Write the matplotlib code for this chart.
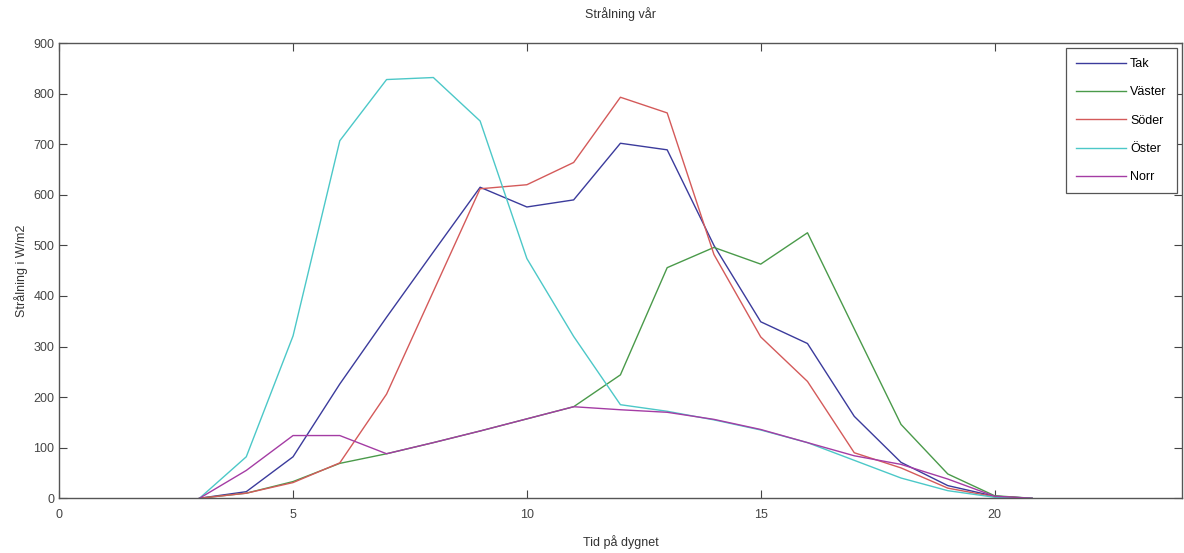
import numpy as np
import matplotlib.pyplot as plt

# hours of the day (last point is sunset)
tid = [3, 4, 5, 6, 7, 8, 9, 10, 11, 12, 13, 14, 15, 16, 17, 18, 19, 20, 20.8]

tak = [0, 13, 82, 226, 358, 487, 615, 576, 590, 702, 689, 500, 349, 306, 162, 71, 25, 4, 0]
vaster = [0, 10, 33, 69, 88, 110, 133, 157, 181, 244, 456, 496, 463, 525, 335, 146, 48, 5, 0]
soder = [0, 10, 31, 70, 206, 409, 612, 620, 664, 793, 762, 482, 319, 231, 90, 60, 20, 3, 0]
oster = [0, 82, 321, 707, 828, 832, 746, 474, 320, 185, 172, 155, 135, 110, 75, 40, 15, 2, 0]
norr = [0, 55, 124, 124, 88, 110, 133, 157, 181, 175, 170, 156, 136, 110, 84, 67, 38, 4, 0]

series = [('Tak', tak, '#3b3b9c'),
          ('Väster', vaster, '#4a9a4a'),
          ('Söder', soder, '#d45a5a'),
          ('Öster', oster, '#4cc8c8'),
          ('Norr', norr, '#a43ca4')]

plt.rcParams['font.family'] = ['Liberation Sans Narrow', 'Liberation Sans', 'DejaVu Sans']

fig = plt.figure(figsize=(11.84, 5.53), dpi=100, facecolor='white')
ax = fig.add_axes([0.050, 0.099, 0.948, 0.823])

for name, vals, col in series:
    ax.plot(tid, vals, color=col, linewidth=1.0, label=name)

ax.set_xlim(0, 24)
ax.set_ylim(0, 900)
ax.set_xticks([0, 5, 10, 15, 20])
ax.set_yticks(np.arange(0, 901, 100))
ax.tick_params(direction='in', top=True, right=True, length=6,
               labelsize=9, colors='#444444', width=0.8)
ax.tick_params(axis='x', pad=8)
for sp in ax.spines.values():
    sp.set_color('#555555')
    sp.set_linewidth(1.0)

ax.set_title('Strålning vår', fontsize=9, color='#333333', pad=18)
ax.set_xlabel('Tid på dygnet', fontsize=9, color='#333333', labelpad=10)
ax.set_ylabel('Strålning i W/m2', fontsize=9, color='#333333')

leg = ax.legend(loc='upper right', fontsize=9, fancybox=False,
                edgecolor='#555555', framealpha=1, handlelength=4.0,
                handletextpad=0.3, borderaxespad=0.4, labelspacing=1.3,
                borderpad=0.8)
leg.get_frame().set_linewidth(0.9)

fig.savefig('out.png', dpi=100, facecolor='white')
